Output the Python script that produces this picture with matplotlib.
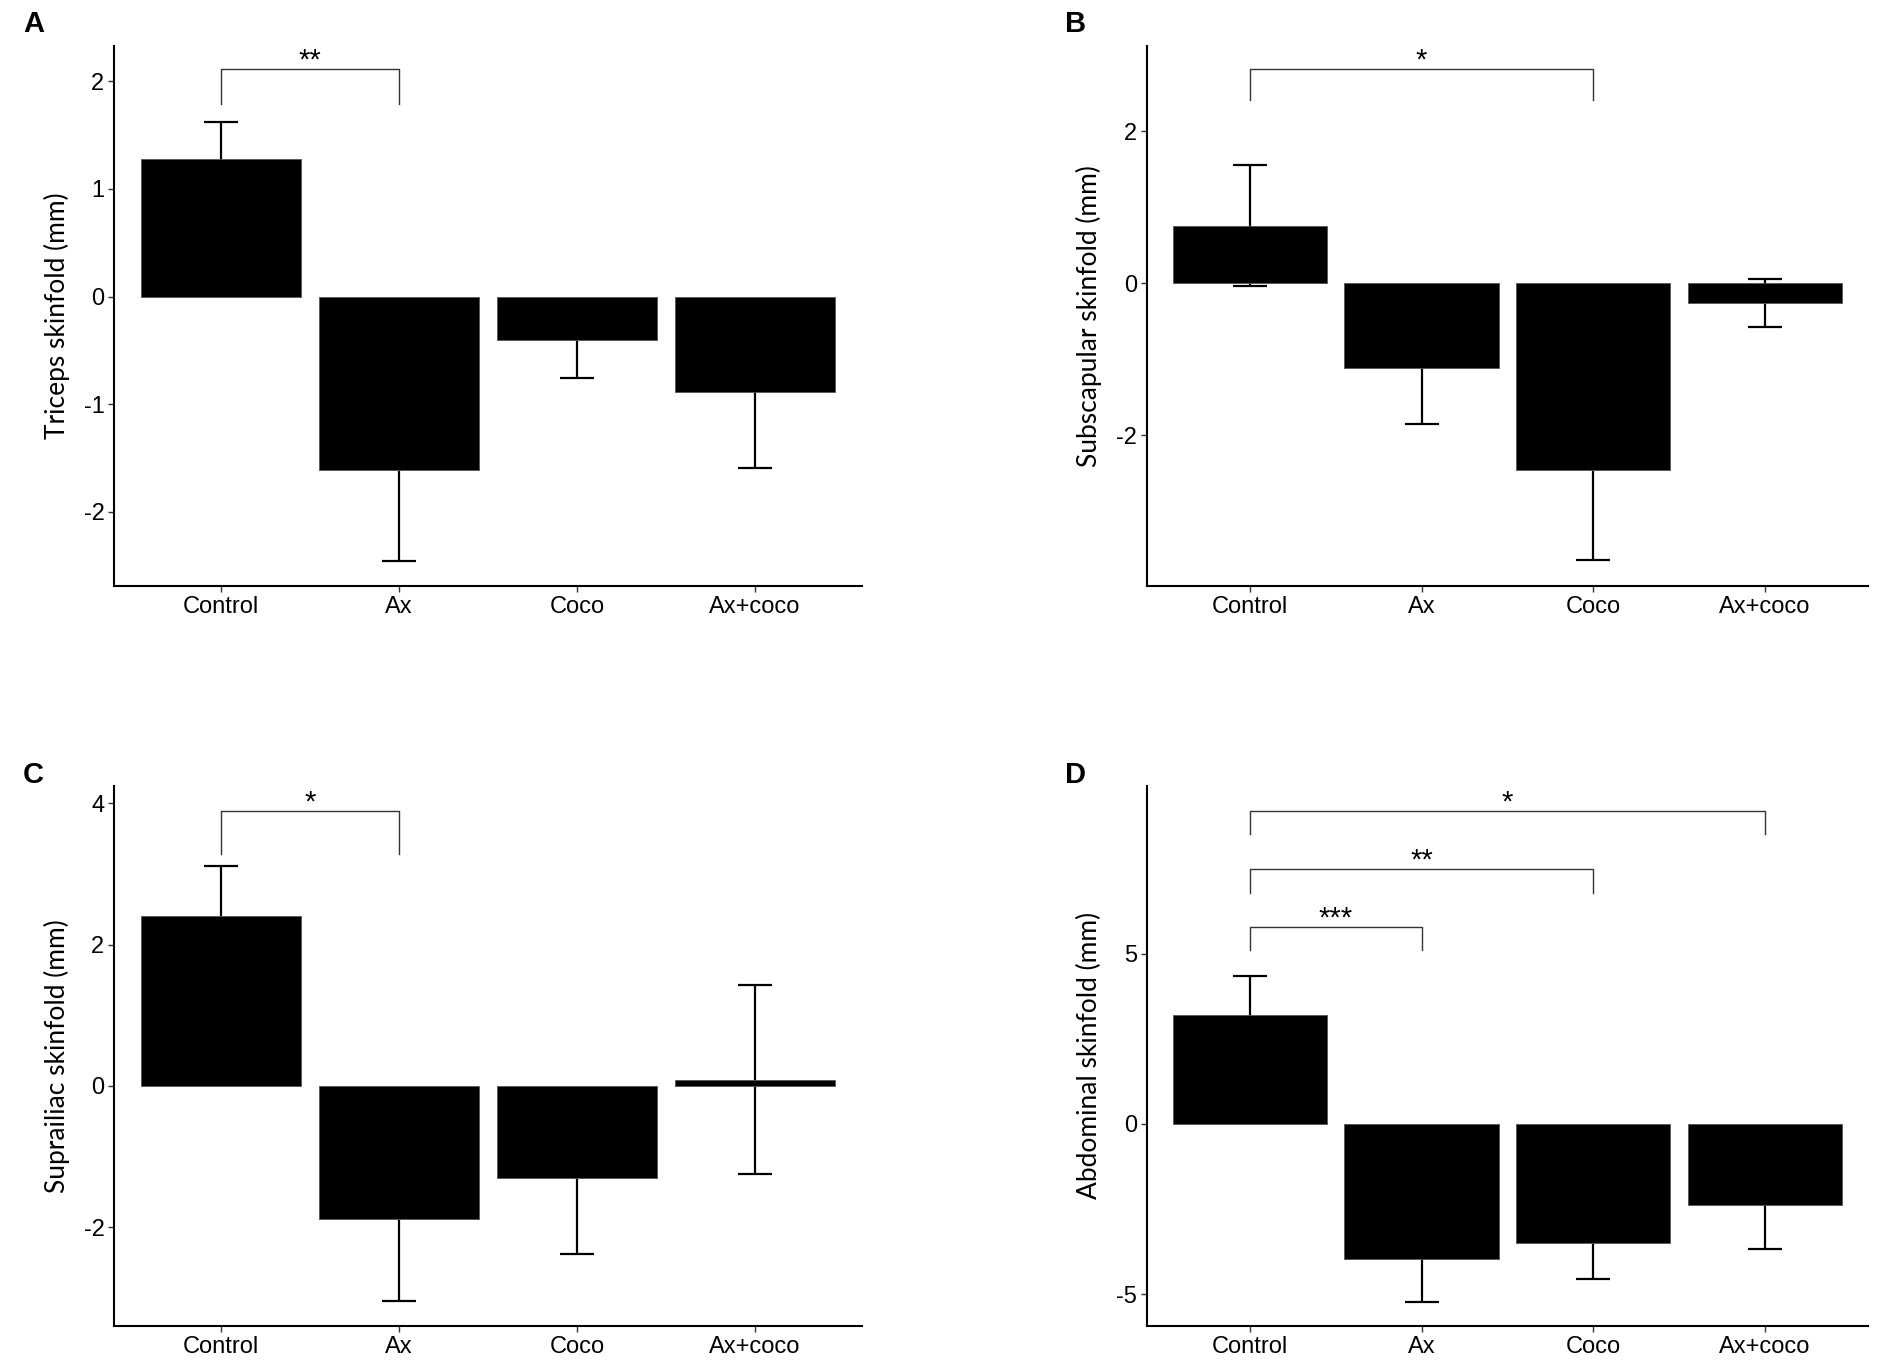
import matplotlib
matplotlib.use("Agg")
import matplotlib.pyplot as plt

# ── data ──────────────────────────────────────────────────────────────
groups = ["Control", "Ax", "Coco", "Ax+coco"]

triceps_mean = [1.28, -1.61, -0.40, -0.89]
triceps_err = [0.34, 0.85, 0.36, 0.70]

subscap_mean = [0.76, -1.12, -2.46, -0.26]
subscap_err = [0.80, 0.73, 1.19, 0.32]

suprail_mean = [2.40, -1.89, -1.31, 0.09]
suprail_err = [0.72, 1.16, 1.07, 1.34]

abdom_mean = [3.21, -3.97, -3.49, -2.39]
abdom_err = [1.13, 1.25, 1.06, 1.28]

# (from group, to group, bar height, leg end, label)
triceps_sig = [(0, 1, 2.11, 1.79, "**")]
subscap_sig = [(0, 2, 2.82, 2.42, "*")]
suprail_sig = [(0, 1, 3.89, 3.29, "*")]
abdom_sig = [(0, 1, 5.78, 5.10, "***"),
             (0, 2, 7.49, 6.79, "**"),
             (0, 3, 9.20, 8.51, "*")]

TICK_FONT = ["Liberation Sans Narrow", "Liberation Sans", "DejaVu Sans"]
LABEL_FONT = ["Lato", "DejaVu Sans"]

panels = [
    # letter, ylabel, means, errs, sig, ylim, yticks, axes rect
    ("A", "Triceps skinfold (mm)", triceps_mean, triceps_err, triceps_sig,
     (-2.69, 2.33), [-2, -1, 0, 1, 2], [0.060, 0.5694, 0.393, 0.397]),
    ("B", "Subscapular skinfold (mm)", subscap_mean, subscap_err, subscap_sig,
     (-3.99, 3.13), [-2, 0, 2], [0.603, 0.5694, 0.379, 0.397]),
    ("C", "Suprailiac skinfold (mm)", suprail_mean, suprail_err, suprail_sig,
     (-3.40, 4.25), [-2, 0, 2, 4], [0.060, 0.0257, 0.393, 0.397]),
    ("D", "Abdominal skinfold (mm)", abdom_mean, abdom_err, abdom_sig,
     (-5.94, 9.94), [-5, 0, 5], [0.603, 0.0257, 0.379, 0.397]),
]

fig = plt.figure(figsize=(19.02, 13.61), dpi=100)

for letter, ylabel, means, errs, sig, ylim, yticks, rect in panels:
    ax = fig.add_axes(rect)
    x = list(range(1, len(groups) + 1))

    # error bars sit behind the bars, like the ggplot original
    ax.errorbar(x, means, yerr=errs, fmt="none", ecolor="black",
                elinewidth=1.6, capsize=12, capthick=1.6, zorder=1)
    ax.bar(x, means, width=0.9, color="black", edgecolor="#555555",
           linewidth=0.6, zorder=2)

    for i, j, top, end, lab in sig:
        xi, xj = x[i], x[j]
        ax.plot([xi, xi, xj, xj], [end, top, top, end], color="#333333",
                linewidth=1.0, zorder=3, clip_on=False)
        ax.annotate(lab, xy=((xi + xj) / 2, top), xytext=(0, -4),
                    textcoords="offset points", ha="center", va="bottom",
                    fontsize=21, family=TICK_FONT)

    ax.set_xlim(0.4, 4.6)
    ax.set_ylim(*ylim)
    ax.set_xticks(x)
    ax.set_xticklabels(groups, family=TICK_FONT, fontsize=17)
    ax.set_yticks(yticks)
    ax.set_yticklabels([str(t) for t in yticks], family=TICK_FONT, fontsize=17)
    ax.tick_params(length=4, width=1, color="#333333", pad=3)
    ax.set_ylabel(ylabel, family=LABEL_FONT, fontsize=19, labelpad=10)

    for side in ("top", "right"):
        ax.spines[side].set_visible(False)
    for side in ("left", "bottom"):
        ax.spines[side].set_linewidth(1.5)
        ax.spines[side].set_color("black")

    lx = rect[0] - 0.048 if letter in "AC" else rect[0] - 0.043
    ly = rect[1] + rect[3] + (0.016 if letter in "AB" else 0.008)
    fig.text(lx, ly, letter, fontsize=21, fontweight="bold",
             family=["Liberation Sans", "DejaVu Sans"], ha="left", va="center")

fig.savefig("out.png", dpi=100, facecolor="white")
